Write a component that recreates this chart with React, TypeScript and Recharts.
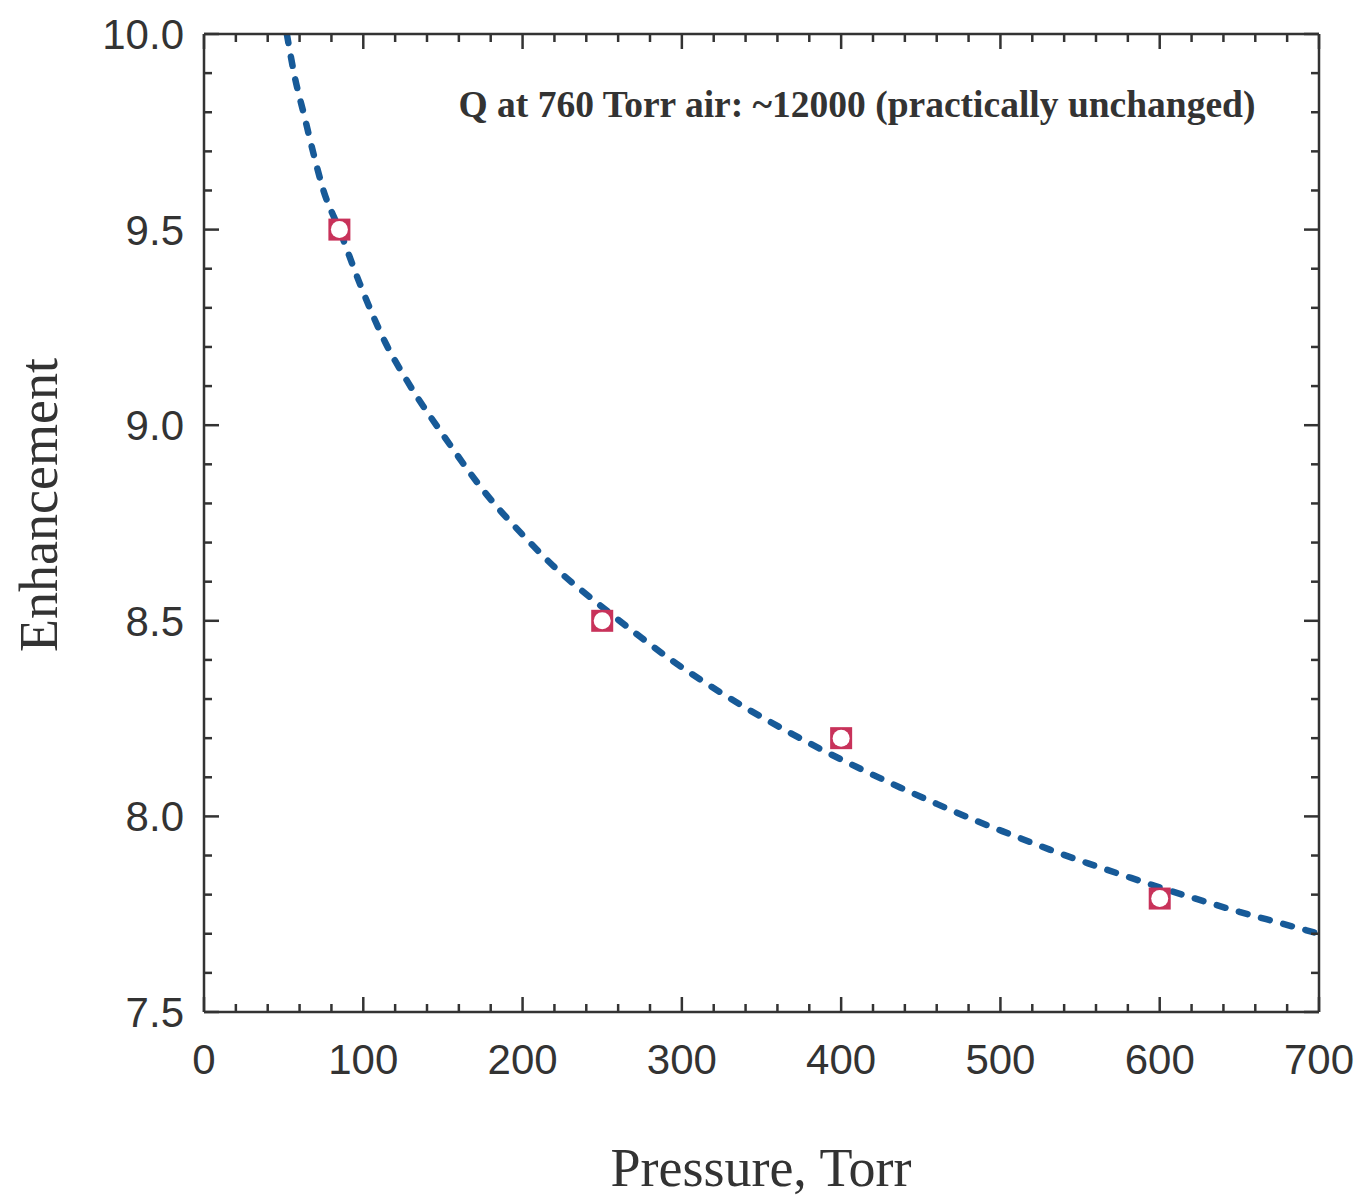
import { ComposedChart, Line, Scatter, XAxis, YAxis } from 'recharts'

// measured enhancement vs. pressure (squares)
const pressure = [85, 250, 400, 600]
const enhancement = [9.5, 8.5, 8.2, 7.79]

// fitted curve (dashed)
const fitPressure = [
  52, 57, 63, 69, 75, 85, 98, 114, 128, 151, 178, 200, 222, 247, 271, 294, 318,
  342, 366, 389, 413, 437, 460, 484, 507, 531, 555, 579, 602, 627, 650, 676, 700,
]
const fitEnhancement = [
  10.0, 9.89, 9.79, 9.69, 9.6, 9.5, 9.36, 9.21, 9.11, 8.97, 8.82, 8.72, 8.63, 8.545,
  8.468, 8.398, 8.333, 8.273, 8.218, 8.168, 8.12, 8.074, 8.032, 7.99, 7.953, 7.915,
  7.88, 7.847, 7.816, 7.784, 7.756, 7.727, 7.7,
]

const xTicks = [
  0, 20, 40, 60, 80, 100, 120, 140, 160, 180, 200, 220, 240, 260, 280, 300, 320, 340,
  360, 380, 400, 420, 440, 460, 480, 500, 520, 540, 560, 580, 600, 620, 640, 660, 680, 700,
]
const xLabelTicks = [0, 100, 200, 300, 400, 500, 600, 700]
const yTicks = [
  7.5, 7.6, 7.7, 7.8, 7.9, 8.0, 8.1, 8.2, 8.3, 8.4, 8.5, 8.6, 8.7, 8.8, 8.9, 9.0, 9.1,
  9.2, 9.3, 9.4, 9.5, 9.6, 9.7, 9.8, 9.9, 10.0,
]
const yLabelTicks = [7.5, 8.0, 8.5, 9.0, 9.5, 10.0]

const points = pressure.map((p, i) => ({ p, e: enhancement[i] }))
const fit = fitPressure.map((p, i) => ({ p, e: fitEnhancement[i] }))

const INK = '#333'
const SANS = '"Liberation Sans", Arial, sans-serif'
const SERIF = '"Liberation Serif", "Times New Roman", serif'

type Side = 'bottom' | 'top' | 'left' | 'right'

// inward ticks, longer at labelled values; labels only on bottom/left
function makeTick(side: Side) {
  return function Tick(props: any) {
    const { x, y, payload } = props
    const v = Number(payload.value)
    const horizontal = side === 'bottom' || side === 'top'
    const major = horizontal
      ? xLabelTicks.includes(v)
      : yLabelTicks.some((t) => Math.abs(t - v) < 1e-6)
    const len = major ? 15 : 8
    let line
    if (side === 'bottom') line = <line x1={x} y1={y} x2={x} y2={y - len} />
    else if (side === 'top') line = <line x1={x} y1={y} x2={x} y2={y + len} />
    else if (side === 'left') line = <line x1={x} y1={y} x2={x + len} y2={y} />
    else line = <line x1={x} y1={y} x2={x - len} y2={y} />
    return (
      <g>
        <g stroke={INK} strokeWidth={2.5}>{line}</g>
        {major && side === 'bottom' && (
          <text x={x} y={y + 62} textAnchor="middle" fontSize={42} fontFamily={SANS} fill={INK}>
            {v}
          </text>
        )}
        {major && side === 'left' && (
          <text x={x - 20} y={y + 15} textAnchor="end" fontSize={42} fontFamily={SANS} fill={INK}>
            {v.toFixed(1)}
          </text>
        )}
      </g>
    )
  }
}

function Marker(props: any) {
  const { cx, cy } = props
  return (
    <g>
      <rect x={cx - 11} y={cy - 11} width={22} height={22} fill="#c8325a" />
      <circle cx={cx} cy={cy} r={8.5} fill="#fff" />
    </g>
  )
}

export default function App() {
  return (
    <div style={{ width: 1357, height: 1199, background: '#fff' }}>
      <style>{'body { margin: 0; }'}</style>
      <ComposedChart width={1357} height={1199} margin={{ top: 33, right: 37, bottom: 0, left: 0 }}>
        <XAxis
          dataKey="p"
          type="number"
          domain={[0, 700]}
          ticks={xTicks}
          interval={0}
          allowDataOverflow
          height={187}
          tickSize={0}
          tickMargin={0}
          tickLine={false}
          axisLine={{ stroke: INK, strokeWidth: 2.5 }}
          tick={makeTick('bottom')}
        />
        <XAxis
          xAxisId="top"
          orientation="top"
          dataKey="p"
          type="number"
          domain={[0, 700]}
          ticks={xTicks}
          interval={0}
          allowDataOverflow
          height={1}
          tickSize={0}
          tickMargin={0}
          tickLine={false}
          axisLine={{ stroke: INK, strokeWidth: 2.5 }}
          tick={makeTick('top')}
        />
        <YAxis
          type="number"
          domain={[7.5, 10]}
          ticks={yTicks}
          interval={0}
          allowDataOverflow
          width={204}
          tickSize={0}
          tickMargin={0}
          tickLine={false}
          axisLine={{ stroke: INK, strokeWidth: 2.5 }}
          tick={makeTick('left')}
        />
        <YAxis
          yAxisId="right"
          orientation="right"
          type="number"
          domain={[7.5, 10]}
          ticks={yTicks}
          interval={0}
          allowDataOverflow
          width={1}
          tickSize={0}
          tickMargin={0}
          tickLine={false}
          axisLine={{ stroke: INK, strokeWidth: 2.5 }}
          tick={makeTick('right')}
        />
        <Scatter data={points} dataKey="e" shape={<Marker />} isAnimationActive={false} />
        <Line
          data={fit}
          dataKey="e"
          type="monotone"
          stroke="#175a98"
          strokeWidth={6.5}
          strokeDasharray="9 14"
          strokeLinecap="round"
          dot={false}
          activeDot={false}
          isAnimationActive={false}
        />
        <text x={857} y={117} textAnchor="middle" fontSize={37.5} fontWeight="bold" fontFamily={SERIF} fill={INK}>
          Q at 760 Torr air: ~12000 (practically unchanged)
        </text>
        <text x={761} y={1186} textAnchor="middle" fontSize={54} fontFamily={SERIF} fill={INK}>
          Pressure, Torr
        </text>
        <text transform="translate(57, 505) rotate(-90)" textAnchor="middle" fontSize={54} fontFamily={SERIF} fill={INK}>
          Enhancement
        </text>
      </ComposedChart>
    </div>
  )
}
